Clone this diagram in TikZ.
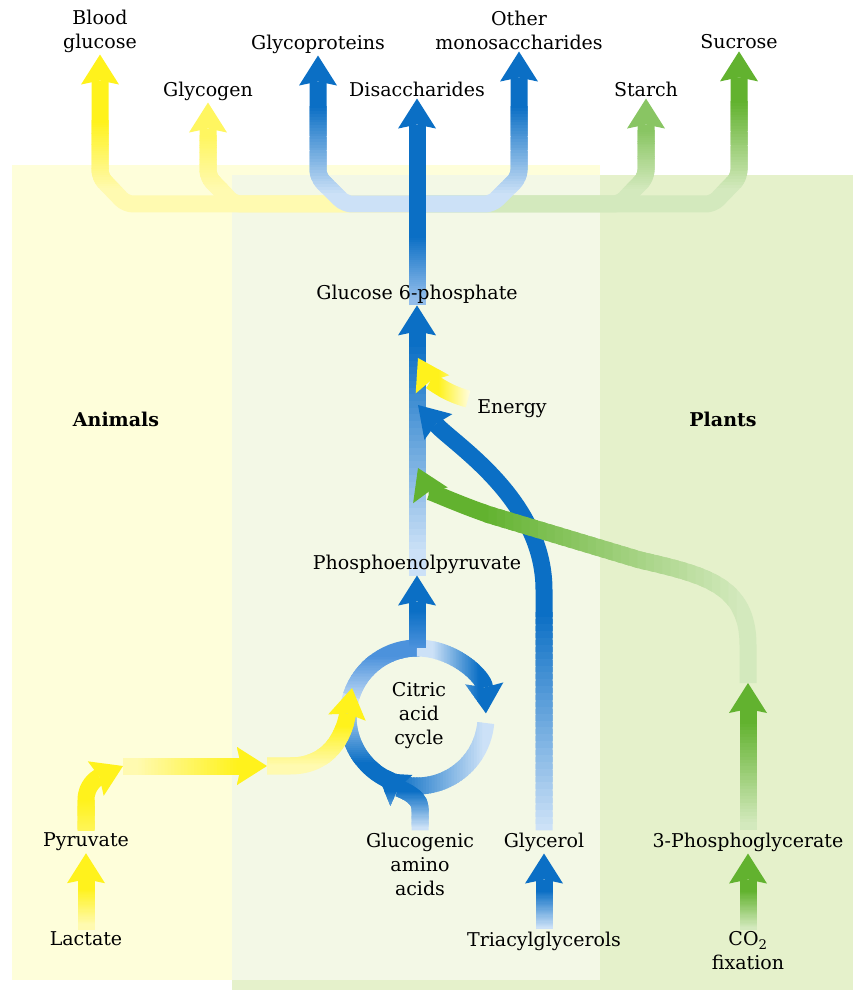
\documentclass[tikz,border=0pt]{standalone}
\usepackage{fontspec}
\setmainfont{DejaVu Serif}
\usetikzlibrary{arrows.meta,calc}

\definecolor{yelB}{HTML}{FFF21C}
\definecolor{yelP}{HTML}{FFFAB0}
\colorlet{yelL}{yelB!70!white}
\colorlet{yelH}{yelB!60!yelP}
\colorlet{yelF}{yelB!15!white}
\definecolor{bluD}{HTML}{0B6FC5}
\definecolor{bluM}{HTML}{4C92DC}
\definecolor{bluP}{HTML}{CCE1F7}
\colorlet{bluL}{bluM!45!bluP}
\definecolor{grnB}{HTML}{62B22F}
\definecolor{grnP}{HTML}{D3E9BD}
\colorlet{grnL}{grnB!75!white}
\definecolor{pnlY}{HTML}{FEFEDA}
\definecolor{pnlG}{HTML}{E5F1CB}
\definecolor{pnlM}{HTML}{F3F8E6}

\pgfdeclarelayer{panels}
\pgfdeclarelayer{flows}
\pgfsetlayers{panels,flows,main}

% shaded arrow: #1 pale colour, #2 strong colour, #3 pale end, #4 strong end, #5 path
\newcommand{\vflow}[5]{%
  \foreach \k in {0,...,31}{%
    \pgfmathsetmacro{\ta}{\k==0 ? -6 : \k/32}%
    \pgfmathsetmacro{\tb}{\k==31 ? 7 : (\k+1.6)/32}%
    \pgfmathtruncatemacro{\pct}{round(100*\k/31)}%
    \begin{scope}
      \clip (-100,{(#3)+((#4)-(#3))*\ta}) rectangle (1000,{(#3)+((#4)-(#3))*\tb});
      \draw[flow,draw=#2!\pct!#1] #5;
    \end{scope}}}
\newcommand{\hflow}[5]{%
  \foreach \k in {0,...,31}{%
    \pgfmathsetmacro{\ta}{\k==0 ? -6 : \k/32}%
    \pgfmathsetmacro{\tb}{\k==31 ? 7 : (\k+1.6)/32}%
    \pgfmathtruncatemacro{\pct}{round(100*\k/31)}%
    \begin{scope}
      \clip ({(#3)+((#4)-(#3))*\ta},100) rectangle ({(#3)+((#4)-(#3))*\tb},-1100);
      \draw[flow,draw=#2!\pct!#1] #5;
    \end{scope}}}

\begin{document}
\begin{tikzpicture}[x=1pt,y=1pt,line cap=butt,
    >={Stealth[length=30pt,width=38pt,inset=4pt,line width=0pt]},
    flow/.style={line width=17pt,line join=round},
    chamfer/.style={rounded corners=7pt},
    lbl/.style={font=\fontsize{19}{24}\selectfont,align=center,inner sep=2pt}]
  \useasboundingbox (0,0) rectangle (863,-1000);

  \begin{pgfonlayer}{panels}
    \fill[pnlY] (12,-165) rectangle (600,-980);
    \fill[pnlG] (232,-175) rectangle (853,-990);
    \fill[pnlM] (232,-175) rectangle (600,-980);
  \end{pgfonlayer}

  % labels
  \node[lbl] (bg)  at (100,-31) {Blood\\glucose};
  \node[lbl] (gcn) at (208,-91) {Glycogen};
  \node[lbl] (gp)  at (318,-44) {Glycoproteins};
  \node[lbl] (dis) at (417,-89) {Disaccharides};
  \node[lbl] (om)  at (519,-30) {Other\\monosaccharides};
  \node[lbl] (st)  at (646,-89) {Starch};
  \node[lbl] (suc) at (739,-42) {Sucrose};
  \node[lbl] (g6p) at (417,-294) {Glucose 6-phosphate};
  \node[lbl] (en)  at (512,-409) {Energy};
  \node[lbl] (ani) at (116,-419) {\bfseries Animals};
  \node[lbl] (pla) at (723,-419) {\bfseries Plants};
  \node[lbl] (pep) at (417,-564) {Phosphoenolpyruvate};
  \node[lbl] (cac) at (419,-716) {Citric\\acid\\cycle};
  \node[lbl] (pyr) at (86,-842) {Pyruvate};
  \node[lbl] (lac) at (86,-939) {Lactate};
  \node[lbl] (glu) at (420,-864) {Glucogenic\\amino\\acids};
  \node[lbl] (gly) at (544,-842) {Glycerol};
  \node[lbl] (tag) at (544,-941) {Triacylglycerols};
  \node[lbl] (pg)  at (748,-842) {3-Phosphoglycerate};
  \node[lbl] (co2) at (748,-951) {CO\textsubscript{2}\\fixation};

  \coordinate (hub) at (417,-204);
  \coordinate (cyc) at (417,-717);
  \coordinate (entail) at (468,-399);
  \coordinate (entip) at (418,-358);
  \coordinate (gltip) at (418,-405);
  \coordinate (grtip) at (418,-468);
  \coordinate (pgtop) at (748,-683);
  \coordinate (gutip) at (377,-773);
  \coordinate (ya) at (123,-766);
  \coordinate (yb) at (267,-766);
  \coordinate (yc) at (352,-688);

  \begin{pgfonlayer}{flows}
    % branches at the top
    \vflow{yelP}{yelB}{-190}{-120}{[->,chamfer] (hub) -- (126,-204) -- (100,-177) -- (bg.south)}
    \vflow{yelP}{yelL}{-190}{-135}{[->,chamfer] (hub) -- (234,-204) -- (208,-177) -- (gcn.south)}
    \vflow{grnP}{grnL}{-190}{-130}{[->,chamfer] (hub) -- (620,-204) -- (646,-177) -- (st.south)}
    \vflow{grnP}{grnB}{-190}{-100}{[->,chamfer] (hub) -- (713,-204) -- (739,-177) -- (suc.south)}
    \vflow{bluP}{bluD}{-195}{-105}{[->,chamfer] (hub) -- (345,-204) -- (318,-177) -- (gp.south)}
    \vflow{bluP}{bluD}{-195}{-105}{[->,chamfer] (hub) -- (492,-204) -- (519,-177) -- (om.south)}
    \vflow{bluL}{bluD}{-300}{-235}{[->] (g6p.south) -- (dis.south)}

    % main column and what feeds it
    \vflow{bluP}{bluD}{-555}{-340}{[->] (pep.south) -- (g6p.south)}
    \vflow{bluP}{bluD}{-830}{-610}{[->] (gly.north) -- (544,-590) .. controls (544,-500) and (455,-445) .. (gltip)}
    \hflow{grnP}{grnB}{745}{480}{[->] (pgtop) -- (748,-645) .. controls (748,-585) and (705,-575) .. (640,-560) -- (490,-515) .. controls (455,-503) and (428,-490) .. (grtip)}
    \hflow{yelF}{yelB}{470}{438}{[->] (entail) .. controls (445,-393) and (430,-380) .. (entip)}

    % citric acid cycle
    \vflow{bluP}{bluD}{-700}{-765}{($(cyc)+(-112:69pt)$) arc[start angle=-112,end angle=-200,radius=69pt]}
    \vflow{bluP}{bluM}{-705}{-655}{($(cyc)+(-198:69pt)$) arc[start angle=-198,end angle=-272,radius=69pt]}
    \hflow{bluP}{bluD}{432}{480}{[->] ($(cyc)+(90:69pt)$) arc[start angle=90,end angle=3,radius=69pt]}
    \hflow{bluP}{bluD}{485}{395}{($(cyc)+(-5:69pt)$) arc[start angle=-5,end angle=-118,radius=69pt]}
    \vflow{bluM}{bluD}{-648}{-610}{[->] ($(cyc)+(90:69pt)$) -- (pep.south)}
    \vflow{bluP}{bluD}{-828}{-790}{[->] (glu.north) -- (420,-808) .. controls (420,-795) and (398,-788) .. (gutip)}

    % animals
    \vflow{yelP}{yelB}{-925}{-888}{[->] (lac.north) -- (pyr.south)}
    \vflow{yelH}{yelB}{-830}{-800}{[->] (pyr.north) -- (86,-800) .. controls (86,-785) and (97,-778) .. (ya)}
    \hflow{yelP}{yelB}{135}{240}{[->] (ya) -- (yb)}
    \vflow{yelP}{yelB}{-766}{-725}{[->] (yb) -- (290,-766) .. controls (330,-766) and (344,-735) .. (yc)}

    % fats and plants
    \vflow{bluP}{bluD}{-928}{-890}{[->] (tag.north) -- (gly.south)}
    \vflow{grnP}{grnB}{-928}{-890}{[->] (co2.north) -- (pg.south)}
    \vflow{grnP}{grnB}{-825}{-720}{[->] (pg.north) -- (pgtop)}
  \end{pgfonlayer}
\end{tikzpicture}
\end{document}
